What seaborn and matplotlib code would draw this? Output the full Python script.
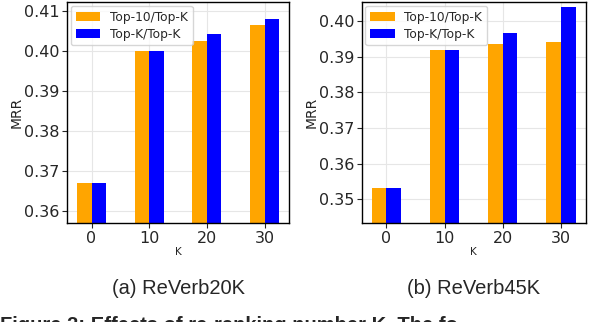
import pandas as pd
import seaborn as sns
import matplotlib.pyplot as plt

# Data
k_values = [0, 10, 20, 30]
methods = ['Top-10/Top-K', 'Top-K/Top-K']
mrr_20k_top10 = [0.367, 0.400, 0.4024, 0.4065]
mrr_20k_topk = [0.367, 0.400, 0.4042, 0.4081]
mrr_45k_top10 = [0.353, 0.392, 0.3936, 0.3942]
mrr_45k_topk = [0.353, 0.392, 0.3967, 0.4039]
captions = ['(a) ReVerb20K', '(b) ReVerb45K']

colors = {'Top-10/Top-K': '#FFA500', 'Top-K/Top-K': '#0000FF'}


def make_df(top10, topk):
    rows = []
    for k, v in zip(k_values, top10):
        rows.append({'K': k, 'MRR': v, 'method': methods[0]})
    for k, v in zip(k_values, topk):
        rows.append({'K': k, 'MRR': v, 'method': methods[1]})
    return pd.DataFrame(rows)


sns.set_style('ticks')
plt.rcParams['font.family'] = ['DejaVu Sans']

fig = plt.figure(figsize=(6.02, 3.22), dpi=100)
ax1 = fig.add_axes([0.1113, 0.3065, 0.3688, 0.6863])
ax2 = fig.add_axes([0.6008, 0.3065, 0.3721, 0.6863])

panels = [
    (ax1, make_df(mrr_20k_top10, mrr_20k_topk), (0.3569, 0.4122), [0.36, 0.37, 0.38, 0.39, 0.40, 0.41]),
    (ax2, make_df(mrr_45k_top10, mrr_45k_topk), (0.3432, 0.4053), [0.35, 0.36, 0.37, 0.38, 0.39, 0.40]),
]

for (ax, df, ylim, yticks), cap in zip(panels, captions):
    sns.barplot(data=df, x='K', y='MRR', hue='method', palette=colors,
                width=0.5, ax=ax, saturation=1, linewidth=0, zorder=2)
    ax.set_ylim(*ylim)
    ax.set_xlim(-0.425, 3.425)
    ax.set_yticks(yticks)
    ax.set_yticklabels([f'{t:.2f}' for t in yticks])
    ax.grid(True, color='#e6e6e6', linewidth=0.8, zorder=0)
    ax.set_axisbelow(True)
    ax.tick_params(labelsize=11.5, length=3.5, width=0.8, pad=2)
    for s in ax.spines.values():
        s.set_linewidth(1.0)
        s.set_color('black')
    ax.set_ylabel('MRR', fontsize=10, labelpad=0)
    ax.set_xlabel('K', fontsize=7.5, labelpad=1)
    leg = ax.legend(loc='upper left', fontsize=8.8, frameon=True, handlelength=2.0,
                    handleheight=0.8, borderpad=0.4, labelspacing=0.3,
                    handletextpad=0.8, borderaxespad=0.3,
                    bbox_to_anchor=(0.0, 1.0))
    leg.get_frame().set_edgecolor('#cccccc')
    bb = ax.get_position()
    fig.text(bb.x0 + bb.width / 2, 0.103, cap, ha='center', va='center',
             fontsize=14.5, family=['Liberation Sans', 'DejaVu Sans'])

fig.text(0.0, 0.0186, 'Figure 3: Effects of re-ranking number K. The fo',
         ha='left', va='top', fontsize=14.5, fontweight='bold',
         family=['Liberation Sans', 'DejaVu Sans'])

fig.savefig('out.png', dpi=100)
